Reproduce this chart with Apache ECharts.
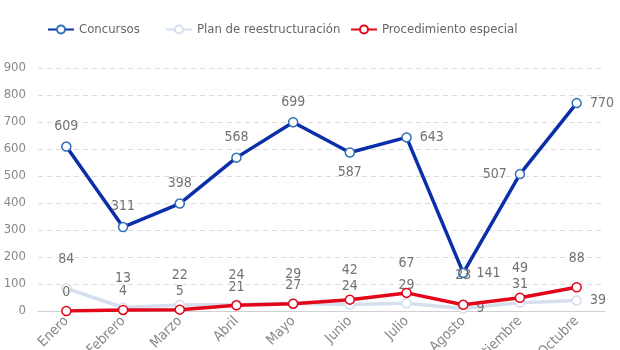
<!DOCTYPE html>
<html>
<head>
<meta charset="utf-8">
<script src="https://cdn.jsdelivr.net/npm/echarts@6/dist/echarts.min.js"></script>
<style>
  html, body { margin: 0; padding: 0; background: #fff; }
  #chart { width: 620px; height: 350px; }
</style>
</head>
<body>
<div id="chart"></div>
<script>
const months = ['Enero', 'Febrero', 'Marzo', 'Abril', 'Mayo', 'Junio', 'Julio', 'Agosto', 'Septiembre', 'Octubre'];
const concursos = [609, 311, 398, 568, 699, 587, 643, 141, 507, 770];
const planReestructuracion = [84, 13, 22, 24, 29, 24, 29, 9, 31, 39];
const procedimientoEspecial = [0, 4, 5, 21, 27, 42, 67, 23, 49, 88];

// where each point's label goes (roughly what the source chart did)
const concursosLabelPos = ['top', 'top', 'top', 'top', 'top', 'bottom', 'right', 'right', 'left', 'right'];
const planLabelPos = ['top', 'top', 'top', 'top', 'top', 'top', 'top', 'right', 'top', 'right'];

const FONT = '"Liberation Sans Narrow", "DejaVu Sans Condensed", sans-serif';
const labelColor = '#727272';

function withLabels(values, positions, other) {
  return values.map(function (v, i) {
    const pos = positions ? positions[i] : 'top';
    let dist = 8;
    if (pos === 'top' && other) dist = v >= other[i] ? 17 : 6;
    return { value: v, label: { position: pos, distance: dist } };
  });
}

function lineSeries(name, color, data, z, border) {
  return {
    name: name,
    type: 'line',
    data: data,
    z: z,
    symbol: 'circle',
    symbolSize: 9,
    lineStyle: { color: color, width: 3.5 },
    itemStyle: { color: '#fff', borderColor: border || color, borderWidth: 1.5 },
    label: { show: true, color: labelColor, fontFamily: FONT, fontSize: 14 },
    emphasis: { disabled: true }
  };
}

const chart = echarts.init(document.getElementById('chart'));
const legendBase = {
  top: 18,
  itemWidth: 26,
  itemHeight: 10,
  textStyle: { color: '#666', fontFamily: FONT, fontSize: 13 }
};
chart.setOption({
  animation: false,
  backgroundColor: '#fff',
  legend: [
    Object.assign({ data: ['Concursos'], left: 42 }, legendBase),
    Object.assign({ data: ['Plan de reestructuración'], left: 160 }, legendBase),
    Object.assign({ data: ['Procedimiento especial'], left: 345 }, legendBase)
  ],
  grid: { left: 38, right: 15, top: 68, bottom: 39, outerBoundsMode: 'none' },
  xAxis: {
    type: 'category',
    data: months,
    axisLine: { lineStyle: { color: '#d0d0d0' } },
    axisTick: { show: false },
    axisLabel: { rotate: 45, color: '#888', fontFamily: FONT, fontSize: 14, margin: 8, interval: 0 }
  },
  yAxis: {
    type: 'value',
    min: 0,
    max: 900,
    interval: 100,
    axisLine: { show: false },
    axisTick: { show: false },
    axisLabel: { color: '#888', fontFamily: FONT, fontSize: 13, margin: 12 },
    splitLine: { lineStyle: { color: '#dcdcdc', type: [5, 4] } }
  },
  series: [
    lineSeries('Plan de reestructuración', '#d5dfee', withLabels(planReestructuracion, planLabelPos, procedimientoEspecial), 2),
    lineSeries('Concursos', '#0b2fa8', withLabels(concursos, concursosLabelPos, null), 3, '#2f6fb8'),
    lineSeries('Procedimiento especial', '#e3061b', withLabels(procedimientoEspecial, null, planReestructuracion), 4)
  ]
});
</script>
</body>
</html>
